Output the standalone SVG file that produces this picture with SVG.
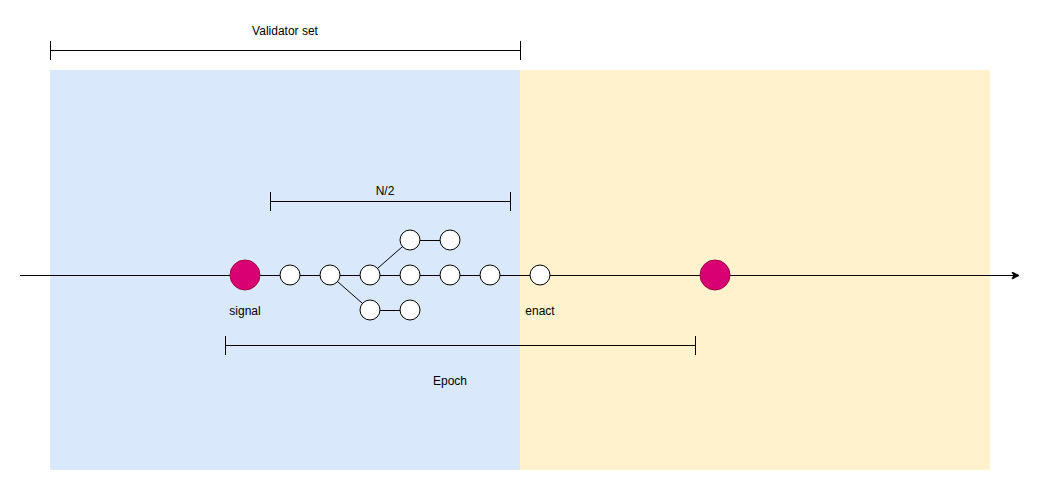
<svg xmlns="http://www.w3.org/2000/svg" width="1049" height="491" viewBox="0 0 1049 491">
<style>
text{font-family:"Liberation Sans",Arial,sans-serif;font-size:12px;fill:#000;text-anchor:middle}
.ln{stroke:#000;stroke-width:1;fill:none}
.c{fill:#fff;stroke:#000;stroke-width:1}
.m{fill:#d80073;stroke:#a50040;stroke-width:1}
</style>
<defs>
<marker id="arr" markerWidth="10" markerHeight="10" refX="8" refY="4" orient="auto" markerUnits="userSpaceOnUse">
<path d="M1,0.5 L8,4 L1,7.5 L2.8,4 Z" fill="#000" stroke="#000" stroke-width="1"/>
</marker>
</defs>
<g id="zone-blue"><rect x="50" y="70" width="470" height="400" fill="#dae8fc"/></g>
<g id="zone-yellow"><rect x="520" y="70" width="470" height="400" fill="#fff2cc"/></g>
<g id="connectors">
<line class="ln" x1="20" y1="275.5" x2="1019" y2="275.5" marker-end="url(#arr)"/>
<line class="ln" x1="330" y1="275" x2="370" y2="310"/>
<line class="ln" x1="370" y1="275" x2="410" y2="240"/>
<line class="ln" x1="410" y1="240.5" x2="450" y2="240.5"/>
<line class="ln" x1="370" y1="310.5" x2="410" y2="310.5"/>
</g>
<g id="bracket-validator">
<line class="ln" x1="50" y1="50.5" x2="520" y2="50.5"/>
<line class="ln" x1="50.5" y1="41" x2="50.5" y2="60"/>
<line class="ln" x1="520.5" y1="41" x2="520.5" y2="60"/>
<text x="285" y="35">Validator set</text>
</g>
<g id="bracket-n2">
<line class="ln" x1="270" y1="201.5" x2="510" y2="201.5"/>
<line class="ln" x1="270.5" y1="192" x2="270.5" y2="211"/>
<line class="ln" x1="510.5" y1="192" x2="510.5" y2="211"/>
<text x="385" y="195">N/2</text>
</g>
<g id="bracket-epoch">
<line class="ln" x1="225" y1="345.5" x2="695" y2="345.5"/>
<line class="ln" x1="225.5" y1="336" x2="225.5" y2="355"/>
<line class="ln" x1="695.5" y1="336" x2="695.5" y2="355"/>
<text x="450" y="385">Epoch</text>
</g>
<g id="signal"><circle class="m" cx="245" cy="275" r="15"/><text x="245" y="315">signal</text></g>
<g id="b1"><circle class="c" cx="290" cy="275" r="10"/></g>
<g id="b2"><circle class="c" cx="330" cy="275" r="10"/></g>
<g id="b3"><circle class="c" cx="370" cy="275" r="10"/></g>
<g id="b4"><circle class="c" cx="410" cy="275" r="10"/></g>
<g id="b5"><circle class="c" cx="450" cy="275" r="10"/></g>
<g id="b6"><circle class="c" cx="490" cy="275" r="10"/></g>
<g id="t1"><circle class="c" cx="410" cy="240" r="10"/></g>
<g id="t2"><circle class="c" cx="450" cy="240" r="10"/></g>
<g id="u1"><circle class="c" cx="370" cy="310" r="10"/></g>
<g id="u2"><circle class="c" cx="410" cy="310" r="10"/></g>
<g id="enact"><circle class="c" cx="540" cy="275" r="10"/><text x="540" y="315">enact</text></g>
<g id="signal2"><circle class="m" cx="715" cy="275" r="15"/></g>
</svg>
